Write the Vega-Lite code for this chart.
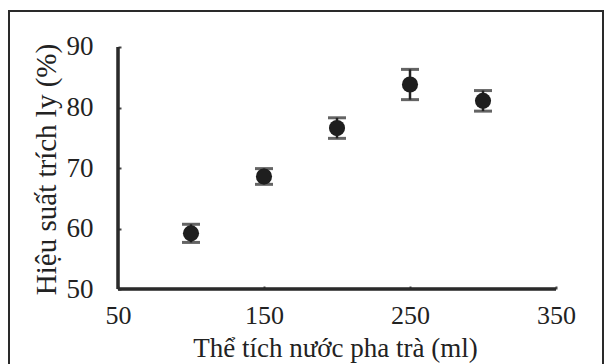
{
  "$schema": "https://vega.github.io/schema/vega-lite/v6.json",
  "autosize": "none",
  "width": 594,
  "height": 356,
  "padding": {"left": 9, "top": 11, "right": 4, "bottom": 0},
  "background": "#ffffff",
  "config": {
    "view": {"stroke": "#2a2a2a", "strokeWidth": 2},
    "font": "Liberation Serif"
  },
  "data": {
    "values": [
      {"volume": 100, "yield": 59.2, "err": 1.5},
      {"volume": 150, "yield": 68.6, "err": 1.3},
      {"volume": 200, "yield": 76.6, "err": 1.7},
      {"volume": 250, "yield": 83.8, "err": 2.5},
      {"volume": 300, "yield": 81.1, "err": 1.7}
    ]
  },
  "transform": [
    {"calculate": "datum.yield - datum.err", "as": "lo"},
    {"calculate": "datum.yield + datum.err", "as": "hi"}
  ],
  "encoding": {
    "x": {
      "field": "volume",
      "type": "quantitative",
      "scale": {"domain": [-24.66, 382.19], "nice": false, "zero": false},
      "axis": {
        "title": "Thể tích nước pha trà (ml)",
        "values": [50, 150, 250, 350],
        "offset": -78,
        "domain": false,
        "grid": false,
        "ticks": true,
        "tickSize": -3,
        "tickWidth": 2,
        "tickColor": "#444",
        "labelFont": "Liberation Serif",
        "labelFontSize": 26,
        "labelColor": "#222",
        "labelBaseline": "alphabetic",
        "labelPadding": 37,
        "titleFont": "Liberation Serif",
        "titleFontSize": 27,
        "titleFontWeight": "normal",
        "titleColor": "#222",
        "titleX": 326,
        "titleY": 67,
        "titleBaseline": "alphabetic"
      }
    },
    "y": {
      "field": "yield",
      "type": "quantitative",
      "scale": {"domain": [37.11, 95.95], "nice": false, "zero": false},
      "axis": {
        "title": "Hiệu suất trích ly (%)",
        "values": [50, 60, 70, 80, 90],
        "offset": -109,
        "domain": false,
        "grid": false,
        "ticks": true,
        "tickSize": -3,
        "tickWidth": 2,
        "tickColor": "#444",
        "labelFont": "Liberation Serif",
        "labelFontSize": 27,
        "labelColor": "#222",
        "labelPadding": 28,
        "titleFont": "Liberation Serif",
        "titleFontSize": 29,
        "titleFontWeight": "normal",
        "titleColor": "#222",
        "titleX": -63,
        "titleY": 158,
        "titleBaseline": "alphabetic"
      }
    }
  },
  "layer": [
    {
      "mark": {"type": "rule", "color": "#2a2a2a", "strokeWidth": 2.5},
      "encoding": {
        "x": {"datum": 50},
        "x2": {"datum": 350},
        "y": {"datum": 50}
      }
    },
    {
      "mark": {"type": "rule", "color": "#2a2a2a", "strokeWidth": 2.5},
      "encoding": {
        "x": {"datum": 50},
        "y": {"datum": 50},
        "y2": {"datum": 90}
      }
    },
    {
      "mark": {"type": "rule", "color": "#222", "strokeWidth": 2.5},
      "encoding": {
        "y": {"field": "lo", "type": "quantitative"},
        "y2": {"field": "hi"}
      }
    },
    {
      "mark": {"type": "tick", "orient": "horizontal", "color": "#222", "size": 18, "thickness": 3},
      "encoding": {"y": {"field": "lo", "type": "quantitative"}}
    },
    {
      "mark": {"type": "tick", "orient": "horizontal", "color": "#222", "size": 18, "thickness": 3},
      "encoding": {"y": {"field": "hi", "type": "quantitative"}}
    },
    {
      "mark": {"type": "point", "shape": "circle", "filled": true, "color": "#1e1e1e", "opacity": 1, "size": 260}
    }
  ]
}
